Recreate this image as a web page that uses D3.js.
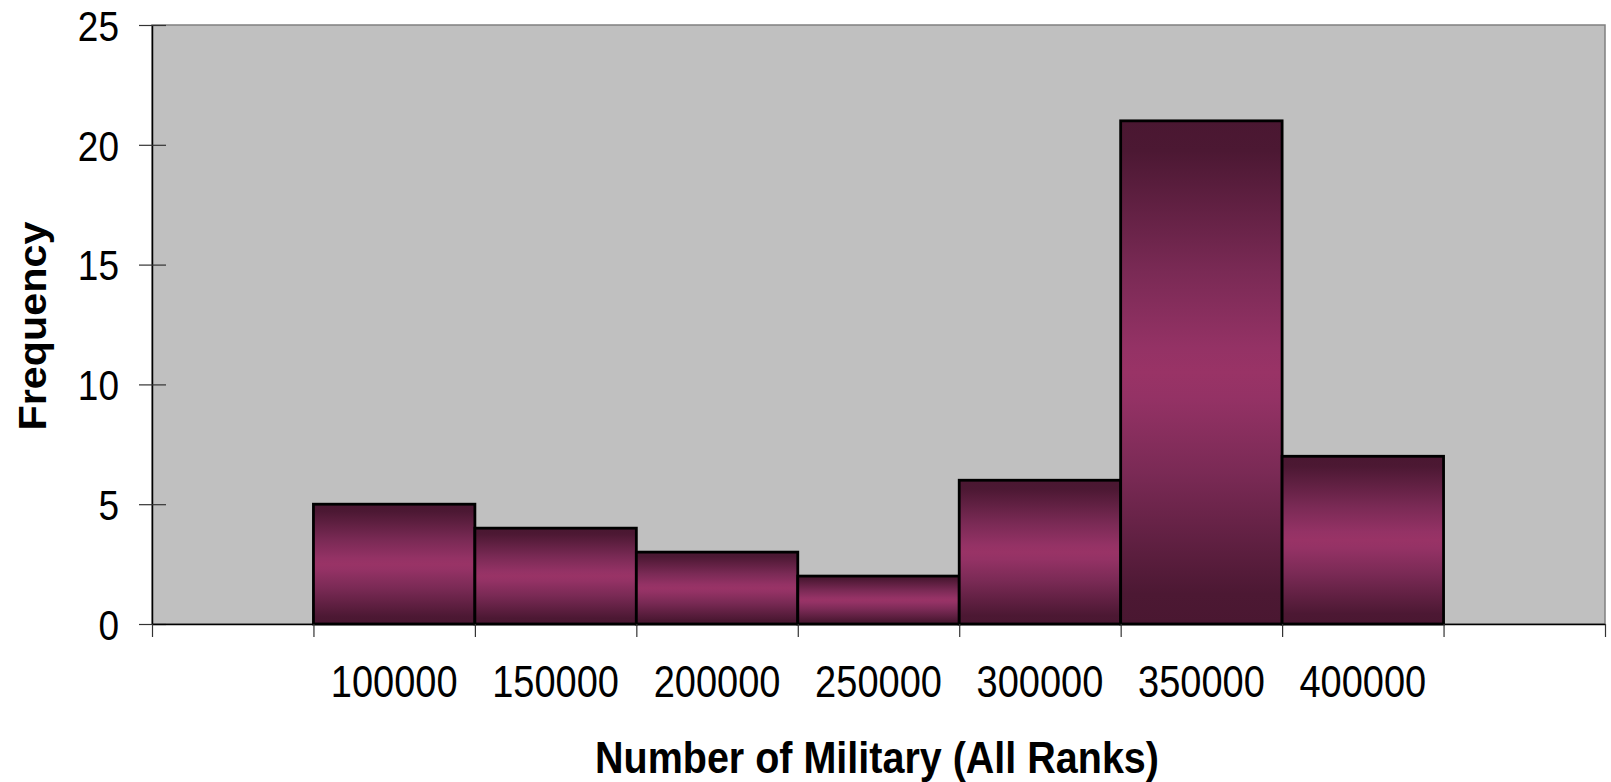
<!DOCTYPE html>
<html>
<head>
<meta charset="utf-8">
<script src="https://cdn.jsdelivr.net/npm/d3@7"></script>
<style>
  html, body { margin: 0; padding: 0; background: #ffffff; }
  svg { display: block; }
  text { font-family: "Liberation Sans", Arial, Helvetica, sans-serif; fill: #000; }
</style>
</head>
<body>
<svg id="chart" width="1611" height="782"></svg>
<script>
// ---- data ----
const categories = ["", "100000", "150000", "200000", "250000", "300000", "350000", "400000", ""];
const frequencies = [0, 5, 4, 3, 2, 6, 21, 7, 0];
const yTickValues = [0, 5, 10, 15, 20, 25];
const xTitle = "Number of Military (All Ranks)";
const yTitle = "Frequency";

// ---- layout ----
const W = 1611, H = 782;
const plot = { left: 152, right: 1605, top: 25, bottom: 624 };
const stretch = 1.15;

const svg = d3.select("#chart");

const idx = d3.range(categories.length);
const x = d3.scaleBand().domain(idx).range([plot.left, plot.right]).paddingInner(0).paddingOuter(0);
const xEdge = d3.scaleLinear().domain([0, categories.length]).range([plot.left, plot.right]);
const y = d3.scaleLinear().domain([0, 25]).range([plot.bottom, plot.top]);

// gradient
const defs = svg.append("defs");
const grad = defs.append("linearGradient").attr("id", "barGrad")
  .attr("x1", 0).attr("y1", 0).attr("x2", 0).attr("y2", 1);
[[0, "#4a1731"], [0.06, "#4c1833"], [0.3, "#7a2a55"], [0.45, "#943265"], [0.5, "#993366"],
 [0.55, "#943265"], [0.7, "#7a2a55"], [0.94, "#4c1833"], [1, "#4a1731"]]
  .forEach(([o, c]) => grad.append("stop").attr("offset", o).attr("stop-color", c));

// plot area
svg.append("rect")
  .attr("x", plot.left).attr("y", plot.top)
  .attr("width", plot.right - plot.left).attr("height", plot.bottom - plot.top)
  .attr("fill", "#c0c0c0").attr("stroke", "#808080").attr("stroke-width", 1.5);

// bars
svg.append("g").selectAll("rect")
  .data(idx.filter(i => frequencies[i] > 0))
  .join("rect")
  .attr("x", i => x(i))
  .attr("y", i => y(frequencies[i]))
  .attr("width", x.bandwidth())
  .attr("height", i => y(0) - y(frequencies[i]))
  .attr("fill", "url(#barGrad)")
  .attr("stroke", "#000")
  .attr("stroke-width", 2.8);

// y axis
const yAxis = svg.append("g").attr("transform", `translate(${plot.left},0)`)
  .call(d3.axisLeft(y).tickValues(yTickValues).tickSizeInner(13).tickSizeOuter(0).tickFormat(d3.format("d")));
yAxis.select(".domain").attr("stroke", "#000").attr("stroke-width", 1.5);
yAxis.selectAll(".tick line").attr("x1", -13).attr("x2", 14).attr("stroke", "#333").attr("stroke-width", 1.2);
yAxis.selectAll(".tick text")
  .attr("x", null).attr("y", 0).attr("dy", 0)
  .attr("text-anchor", "end")
  .attr("font-size", 37)
  .attr("transform", `translate(-33,15.3) scale(1,${stretch})`);

// x axis: tick marks at category edges
const xTicks = svg.append("g").attr("transform", `translate(0,${plot.bottom})`)
  .call(d3.axisBottom(xEdge).tickValues(d3.range(categories.length + 1)).tickSizeInner(13).tickSizeOuter(0).tickFormat(""));
xTicks.select(".domain").attr("stroke", "#000").attr("stroke-width", 1.5);
xTicks.selectAll(".tick line").attr("stroke", "#333").attr("stroke-width", 1.2);

// x axis: labels at category centers
const xLabels = svg.append("g").attr("transform", `translate(0,${plot.bottom})`)
  .call(d3.axisBottom(x).tickSize(0).tickFormat(i => categories[i]));
xLabels.select(".domain").remove();
xLabels.selectAll(".tick text")
  .attr("y", 0).attr("dy", 0)
  .attr("font-size", 38)
  .attr("transform", `translate(0,73) scale(1,${stretch})`);

// axis titles
svg.append("text")
  .attr("text-anchor", "middle")
  .attr("font-weight", "bold")
  .attr("font-size", 39.5)
  .attr("transform", `translate(877,773) scale(1,1.1)`)
  .text(xTitle);

svg.append("text")
  .attr("text-anchor", "middle")
  .attr("font-weight", "bold")
  .attr("font-size", 39)
  .attr("transform", `translate(46,326) scale(1,1.06) rotate(-90)`)
  .text(yTitle);
</script>
</body>
</html>
